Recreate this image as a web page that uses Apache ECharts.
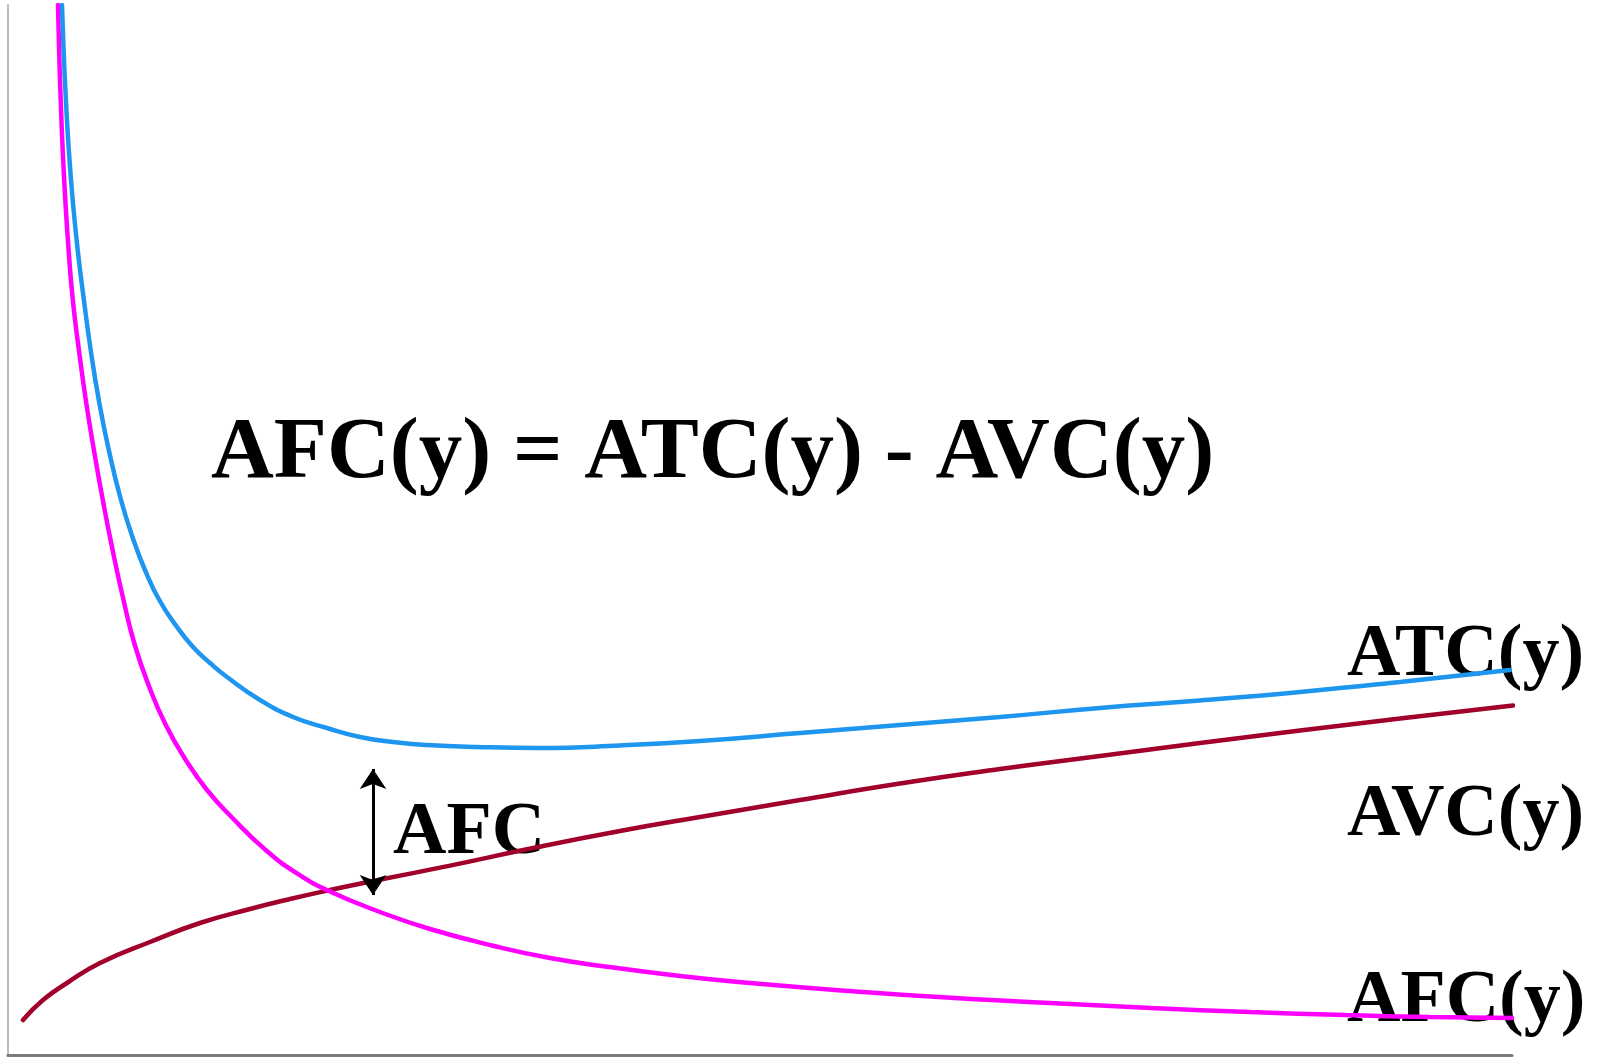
<!DOCTYPE html>
<html>
<head>
<meta charset="utf-8">
<script src="https://cdn.jsdelivr.net/npm/echarts@6/dist/echarts.min.js"></script>
<style>
html,body{margin:0;padding:0;background:#fff;}
#chart{width:1604px;height:1059px;}
</style>
</head>
<body>
<div id="chart"></div>
<script>
// Quantity (x) and cost (y) values (arbitrary units)
var atcX = [5.4, 5.56, 5.79, 6.08, 6.47, 6.97, 7.59, 8.27, 9.08, 10.08, 11.3, 12.55, 13.7, 15.13, 16.9, 18.5, 20.2, 21.9, 25.2, 28.5, 31.9, 35.2, 38.5, 41.9, 46.9, 53.2, 61.2, 69.2, 79.2, 89.2, 99.2, 109.2, 119.2, 129.2, 139.2, 150.2];
var atcY = [105, 100.5, 95.5, 90.5, 85.5, 80.5, 75.5, 70.5, 65.5, 60.5, 55.5, 51.5, 48.5, 45.5, 42.8, 40.8, 39.2, 37.8, 35.5, 33.8, 32.7, 31.8, 31.3, 31.0, 30.8, 30.7, 30.95, 31.4, 32.2, 33.0, 33.8, 34.7, 35.45, 36.3, 37.3, 38.5];

var afcX = [5.0, 5.11, 5.27, 5.47, 5.73, 6.06, 6.48, 7.09, 7.78, 8.59, 9.48, 10.46, 11.55, 12.68, 14.13, 15.78, 17.78, 19.9, 22.45, 25.7, 28.9, 32.2, 37.2, 42.2, 48.6, 54.2, 60.1, 67.2, 74.2, 84.2, 94.7, 104.2, 114.3, 124.2, 133.8, 142.2, 150.4];
var afcY = [105, 100.5, 95.5, 90.5, 85.5, 80.5, 75.5, 70.5, 65.5, 60.5, 55.5, 50.5, 45.5, 41.0, 36.8, 33.0, 29.5, 26.5, 23.7, 20.56, 18.16, 16.35, 14.3, 12.6, 10.9, 9.7, 8.8, 7.9, 7.2, 6.4, 5.7, 5.2, 4.7, 4.3, 4.0, 3.8, 3.7];

var avcX = [1.5, 3.5, 5.9, 9.2, 14.2, 19.2, 24.2, 28.2, 32.2, 36.5, 44.2, 52.5, 61.2, 69.2, 79.2, 89.2, 99.2, 109.2, 119.2, 129.2, 139.2, 150.5];
var avcY = [3.5, 5.5, 7.2, 9.2, 11.3, 13.2, 14.6, 15.6, 16.5, 17.4, 18.94, 20.7, 22.4, 23.8, 25.5, 27.15, 28.6, 29.9, 31.2, 32.45, 33.65, 34.95];

// AFC gap arrow (x, top y, bottom y)
var arrowX = [36.5];
var arrowY = [28.6, 16.0];

// Text
var formulaText = 'AFC(y) = ATC(y) - AVC(y)';
var curveLabels = ['ATC(y)', 'AVC(y)', 'AFC(y)'];
var gapLabel = 'AFC';

function pairs(xs, ys) {
  return xs.map(function (x, i) { return [x, ys[i]]; });
}

function txt(s, x, y, size) {
  return {
    type: 'text', x: x, y: y, z: 0,
    style: {
      text: s, fill: '#000',
      fontFamily: 'Liberation Serif', fontWeight: 'bold', fontSize: size,
      verticalAlign: 'middle', align: 'left'
    }
  };
}

var chart = echarts.init(document.getElementById('chart'));
chart.setOption({
  animation: false,
  backgroundColor: '#fff',
  grid: { left: 8, right: 92, top: 5, bottom: 4, containLabel: false },
  xAxis: {
    type: 'value', min: 0, max: 150.4,
    axisLine: { show: true, onZero: false, lineStyle: { color: '#7a7a7a', width: 3 } },
    axisTick: { show: false }, axisLabel: { show: false }, splitLine: { show: false }
  },
  yAxis: {
    type: 'value', min: 0, max: 105,
    axisLine: { show: true, onZero: false, lineStyle: { color: '#bbbbbb', width: 2 } },
    axisTick: { show: false }, axisLabel: { show: false }, splitLine: { show: false }
  },
  graphic: [
    txt(formulaText, 211, 455, 87),
    txt(curveLabels[0], 1347, 656, 74),
    txt(curveLabels[1], 1347, 816, 74),
    txt(curveLabels[2], 1347, 1002, 74),
    txt(gapLabel, 393, 834, 74)
  ],
  series: [
    {
      name: 'AVC', type: 'line', data: pairs(avcX, avcY), showSymbol: false, symbol: 'none',
      smooth: 0.5, z: 3,
      lineStyle: { color: '#a0002a', width: 4.5, cap: 'round' }
    },
    {
      name: 'AFC', type: 'line', data: pairs(afcX, afcY), showSymbol: false, symbol: 'none',
      smooth: 0.5, z: 4,
      lineStyle: { color: '#ff00ff', width: 4.5, cap: 'round' }
    },
    {
      name: 'ATC', type: 'line', data: pairs(atcX, atcY), showSymbol: false, symbol: 'none',
      smooth: 0.5, z: 5,
      lineStyle: { color: '#1e96f0', width: 4.5, cap: 'round' },
      markLine: {
        silent: true, z: 6,
        symbol: ['arrow', 'arrow'], symbolSize: [20, 20],
        label: { show: false },
        lineStyle: { color: '#000', width: 3, type: 'solid' },
        data: [[{ coord: [arrowX[0], arrowY[0]] }, { coord: [arrowX[0], arrowY[1]] }]]
      }
    }
  ]
});
</script>
</body>
</html>
